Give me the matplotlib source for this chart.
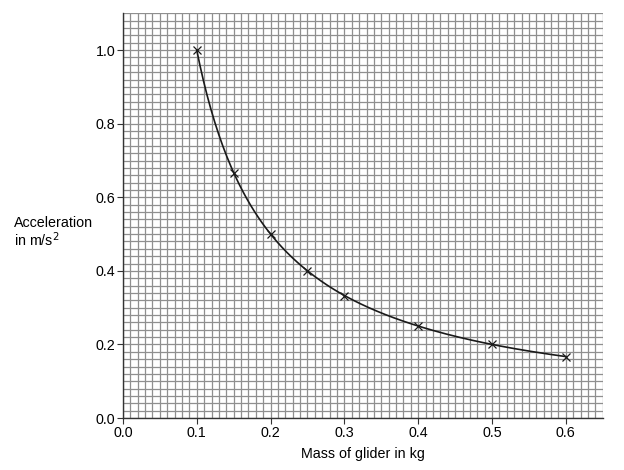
import numpy as np
import matplotlib
matplotlib.use("Agg")
import matplotlib.pyplot as plt

plt.rcParams["font.family"] = ["Liberation Sans", "DejaVu Sans"]
plt.rcParams["font.size"] = 10.3

# data
mass = [0.1, 0.15, 0.2, 0.25, 0.3, 0.4, 0.5, 0.6]
accel = [1.0, 0.667, 0.5, 0.4, 0.333, 0.25, 0.2, 0.167]
x_ticks = [0.0, 0.1, 0.2, 0.3, 0.4, 0.5, 0.6]
y_ticks = [0.0, 0.2, 0.4, 0.6, 0.8, 1.0]


def catmull_rom(xs, ys, n=30):
    # smooth curve through the points, done in log-log space
    px = np.log(np.asarray(xs))
    py = np.log(np.asarray(ys))
    px = np.concatenate([[2 * px[0] - px[1]], px, [2 * px[-1] - px[-2]]])
    py = np.concatenate([[2 * py[0] - py[1]], py, [2 * py[-1] - py[-2]]])
    out_x, out_y = [], []
    t = np.linspace(0, 1, n)
    for i in range(1, len(px) - 2):
        for p, out in ((px, out_x), (py, out_y)):
            p0, p1, p2, p3 = p[i - 1], p[i], p[i + 1], p[i + 2]
            out.extend(0.5 * ((2 * p1) + (-p0 + p2) * t
                              + (2 * p0 - 5 * p1 + 4 * p2 - p3) * t ** 2
                              + (-p0 + 3 * p1 - 3 * p2 + p3) * t ** 3))
    return np.exp(out_x), np.exp(out_y)


fig = plt.figure(figsize=(6.24, 4.70), dpi=100)
ax = fig.add_axes([0.197, 0.1106, 0.769, 0.861])

ax.set_xlim(0, 0.65)
ax.set_ylim(0, 1.1)

# graph paper
for gx in np.arange(0, 0.6501, 0.01):
    ax.axvline(gx, color="#8f8f8f", lw=0.9, zorder=0)
for gy in np.arange(0, 1.1001, 0.02):
    ax.axhline(gy, color="#8f8f8f", lw=0.9, zorder=0)

cx, cy = catmull_rom(mass, accel)
ax.plot(cx, cy, color="#1a1a1a", lw=1.2, zorder=3)
ax.plot(mass, accel, ls="none", marker="x", ms=6, mew=0.9,
        color="#1a1a1a", zorder=4)

ax.set_xticks(x_ticks)
ax.set_yticks(y_ticks)
ax.set_xticklabels([f"{v:.1f}" for v in x_ticks])
ax.set_yticklabels([f"{v:.1f}" for v in y_ticks])
ax.tick_params(direction="out", length=4, width=0.8, color="#333333",
               labelsize=10.3, pad=1.5)

for side in ("top", "right"):
    ax.spines[side].set_visible(False)
for side in ("left", "bottom"):
    ax.spines[side].set_color("#333333")
    ax.spines[side].set_linewidth(1.0)

ax.set_xlabel("Mass of glider in kg", fontsize=10.3, labelpad=5)
fig.text(0.022, 0.505, "Acceleration\nin m/s$^2$", fontsize=10.3,
         ha="left", va="center", linespacing=1.05)

fig.savefig("out.png", dpi=100)
